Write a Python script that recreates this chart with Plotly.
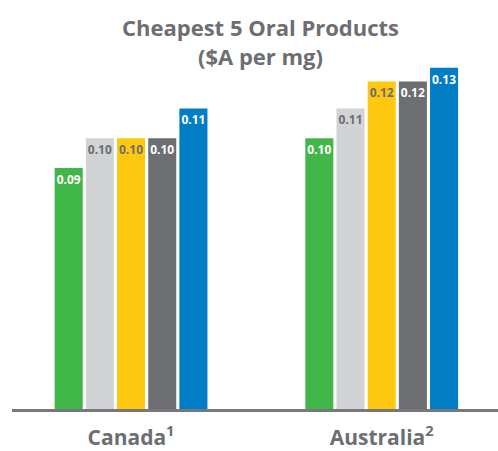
import plotly.graph_objects as go

countries = ["Canada<sup>1</sup>", "Australia<sup>2</sup>"]
series_names = ["Product 1", "Product 2", "Product 3", "Product 4", "Product 5"]
product1 = [0.089, 0.100]
product2 = [0.100, 0.111]
product3 = [0.100, 0.121]
product4 = [0.100, 0.121]
product5 = [0.111, 0.126]
series_values = [product1, product2, product3, product4, product5]

colors = ["#41b649", "#d1d3d4", "#fec80f", "#6d6e71", "#007dc5"]
text_colors = ["white", "#6d6e71", "#6d6e71", "white", "white"]

fig = go.Figure()
for name, vals, c, tc in zip(series_names, series_values, colors, text_colors):
    fig.add_trace(go.Bar(
        x=countries, y=vals, name=name,
        marker=dict(color=c, line=dict(width=0)),
        texttemplate="%{y:.2f}", textposition="inside",
        insidetextanchor="end", textangle=0, constraintext="none",
        textfont=dict(family="Open Sans", size=12, color=tc, weight="bold"),
        cliponaxis=False, hoverinfo="skip",
    ))

fig.update_layout(
    width=498, height=451,
    margin=dict(l=12, r=0, t=60, b=40),
    paper_bgcolor="white", plot_bgcolor="white",
    barmode="group", bargap=0.378, bargroupgap=0.10,
    showlegend=False,
    xaxis=dict(
        range=[-0.475, 1.464],
        showgrid=False, zeroline=False,
        showline=True, linecolor="#77787b", linewidth=2.5,
        ticks="", ticklabelstandoff=8,
        tickfont=dict(family="Open Sans", size=21, color="#6d6e71", weight="bold"),
    ),
    yaxis=dict(
        range=[0, 0.1289], visible=False, showgrid=False, zeroline=False,
    ),
    annotations=[dict(
        text="Cheapest 5 Oral Products<br>($A per mg)",
        xref="paper", yref="paper", x=(260 - 12) / 486, y=1,
        yshift=50, xanchor="center", yanchor="top", showarrow=False,
        font=dict(family="Open Sans", size=22, color="#6d6e71", weight="bold"),
        align="center",
    )],
)

fig.write_html("out.html", config={"displayModeBar": False},
               post_script="document.body.style.margin='0';")
